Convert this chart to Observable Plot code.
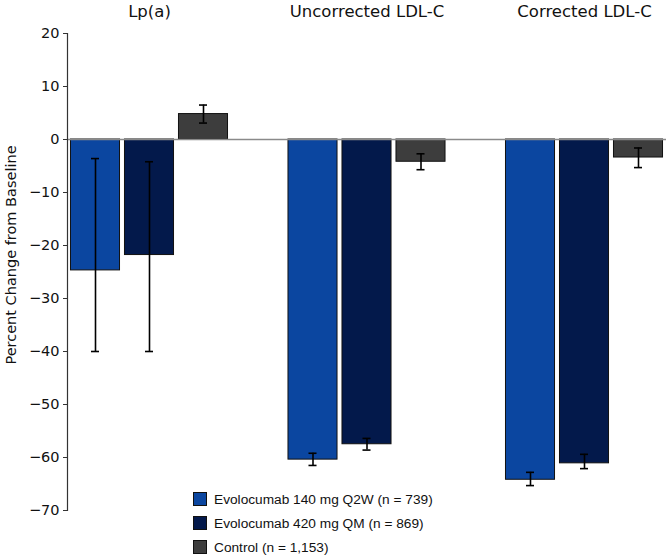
<!DOCTYPE html>
<html>
<head>
<meta charset="utf-8">
<script src="https://cdn.jsdelivr.net/npm/d3@7"></script>
<script src="https://cdn.jsdelivr.net/npm/@observablehq/plot@0.6"></script>
<style>
  body { margin: 0; background: #fff; }
  #wrap { position: relative; width: 667px; height: 555px; font-family: "Liberation Sans", Arial, sans-serif; }
  #legend { position: absolute; left: 193px; top: 487px; font-size: 13.7px; color: #111; }
  .item { display: flex; align-items: center; height: 24px; }
  .sw { width: 12px; height: 12px; border: 1px solid #111; margin-right: 7px; }
</style>
</head>
<body>
<div id="wrap"><div id="legend"></div></div>
<script>
const groups = ["Lp(a)", "Uncorrected LDL-C", "Corrected LDL-C"];
const series = ["Evolocumab 140 mg Q2W (n = 739)", "Evolocumab 420 mg QM (n = 869)", "Control (n = 1,153)"];
const colors = ["#0b46a0", "#03194b", "#3d3d3d"];

const q2w   = [-24.7, -60.4, -64.2];
const q2wLo = [-40.0, -61.5, -65.3];
const q2wHi = [-3.6, -59.2, -62.8];

const qm    = [-21.8, -57.5, -61.1];
const qmLo  = [-40.0, -58.6, -62.1];
const qmHi  = [-4.2, -56.4, -59.4];

const ctrl   = [4.8, -4.2, -3.4];
const ctrlLo = [3.1, -5.7, -5.3];
const ctrlHi = [6.5, -2.7, -1.6];

const yTicks = [20, 10, 0, -10, -20, -30, -40, -50, -60, -70];

const values = [q2w, qm, ctrl], los = [q2wLo, qmLo, ctrlLo], his = [q2wHi, qmHi, ctrlHi];
const rows = [];
series.forEach((s, i) => groups.forEach((g, j) => rows.push({group: g, series: s, si: i, value: values[i][j], lo: los[i][j], hi: his[i][j]})));

const band = 157, barW = 49, gap = 5, cap = 4;
const axisFont = "'DejaVu Sans', 'Liberation Sans', sans-serif";
const marks = [];
series.forEach((s, i) => {
  const data = rows.filter(d => d.si === i);
  const start = i * (barW + gap);
  marks.push(Plot.barY(data, {x: "group", y: "value", fill: "series", stroke: "#111", strokeWidth: 1,
    insetLeft: start, insetRight: band - start - barW}));
});
marks.push(Plot.ruleY([0], {stroke: "#8a8a8a", strokeWidth: 1.5}));
series.forEach((s, i) => {
  const data = rows.filter(d => d.si === i);
  const center = i * (barW + gap) + barW / 2;
  marks.push(Plot.ruleX(data, {x: "group", y1: "lo", y2: "hi", dx: center - band / 2, stroke: "#000", strokeWidth: 1.6}));
  marks.push(Plot.tickY(data, {x: "group", y: "lo", stroke: "#000", strokeWidth: 1.6, insetLeft: center - cap, insetRight: band - center - cap}));
  marks.push(Plot.tickY(data, {x: "group", y: "hi", stroke: "#000", strokeWidth: 1.6, insetLeft: center - cap, insetRight: band - center - cap}));
});
marks.push(Plot.frame({anchor: "left", stroke: "#333", strokeWidth: 1.2}));
marks.push(Plot.axisY({ticks: yTicks, tickSize: 4, tickPadding: 4, fontSize: 14.5, fontFamily: axisFont, stroke: "#333",
  label: "Percent Change from Baseline", labelAnchor: "center", labelOffset: 62, labelArrow: "none"}));
marks.push(Plot.axisX({anchor: "top", tickSize: 0, tickPadding: 17, fontSize: 16.5, fontFamily: axisFont, label: null}));

const chart = Plot.plot({
  width: 667, height: 555,
  marginTop: 33, marginBottom: 45, marginLeft: 67, marginRight: 1,
  style: {fontFamily: axisFont, fontSize: "14.5px", color: "#111", background: "#fff"},
  x: {domain: groups, paddingInner: 0.278, paddingOuter: 0.016, round: false},
  y: {domain: [-70, 20]},
  color: {domain: series, range: colors},
  marks
});
document.getElementById("wrap").prepend(chart);

// nudge the y-axis title up to where the reference places it
const lab = d3.select(chart).select('g[aria-label="y-axis label"]');
if (!lab.empty()) lab.attr("transform", (lab.attr("transform") || "") + " translate(0,-17)");

const legend = d3.select("#legend");
series.forEach((s, i) => {
  const it = legend.append("div").attr("class", "item");
  it.append("div").attr("class", "sw").style("background", colors[i]);
  it.append("span").text(s);
});
</script>
</body>
</html>
